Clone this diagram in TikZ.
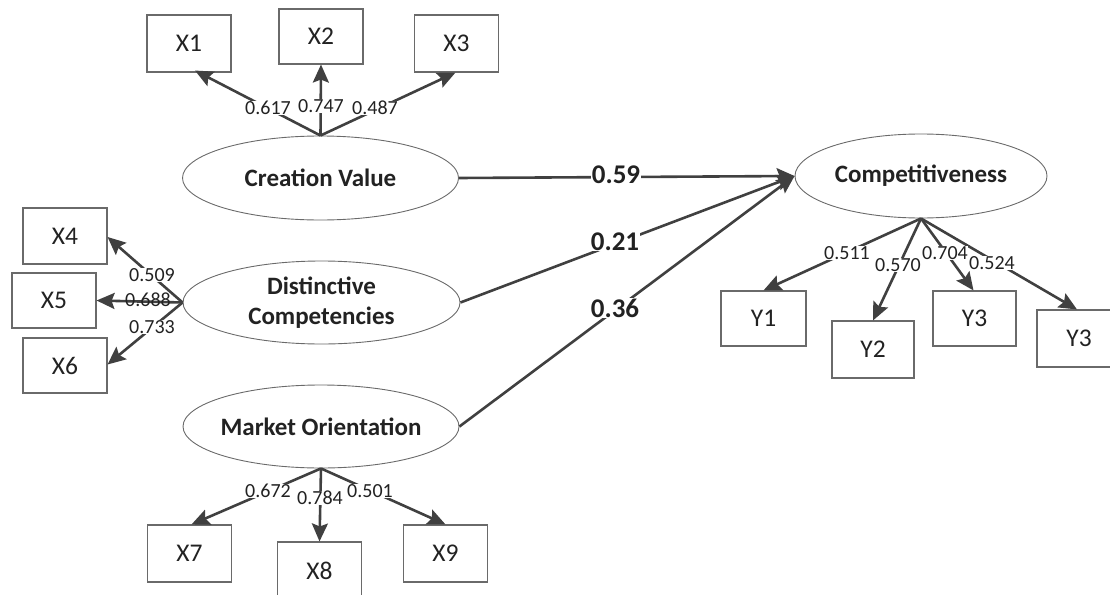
\documentclass[tikz,border=0pt]{standalone}
\usepackage{fontspec}
\setmainfont{Carlito}
\usetikzlibrary{arrows.meta,calc,shapes.geometric}
\definecolor{ln}{HTML}{404040}
\definecolor{bx}{HTML}{6A6A6A}
\definecolor{tx}{HTML}{222222}
\tikzset{
  ind/.style={draw=bx,line width=1.1pt,minimum width=84pt,minimum height=56pt,inner sep=0pt,text=tx,font=\fontsize{25.5}{29}\selectfont},
  lat/.style={draw=bx,line width=0.9pt,ellipse,minimum width=276pt,minimum height=84pt,inner sep=0pt,text=tx,align=center,font=\fontsize{25}{30}\selectfont\bfseries},
  con/.style={draw=ln,line width=2.6pt,-{Stealth[length=18pt,width=16pt,inset=3pt]}},
  lab/.style={fill=white,inner sep=0.5pt,text=tx,font=\fontsize{20}{23}\selectfont},
  coef/.style={fill=white,inner sep=0.5pt,text=tx,font=\fontsize{27}{31}\selectfont\bfseries}
}
\begin{document}
\begin{tikzpicture}[x=1pt,y=-1pt]
\useasboundingbox (0,0) rectangle (1110,594);
% latent variables
\node[lat] (cv) at (320.5,178) {\makebox[0pt]{Creation Value}};
\node[lat,minimum width=277pt,minimum height=83pt] (dc) at (321.5,302.5) {Distinctive\\Competencies};
\node[lat,minimum height=83pt] (mo) at (321,426.5) {\makebox[0pt]{Market Orientation}};
\node[lat,minimum width=252pt] (co) at (921,176) {\makebox[0pt]{Competitiveness}};
% indicators
\node[ind,minimum height=57pt] (x1) at (189,43.5) {X1};
\node[ind,minimum height=55pt] (x2) at (321,36.5) {X2};
\node[ind,minimum height=57pt] (x3) at (456.5,43.5) {X3};
\node[ind] (x4) at (65,236) {X4};
\node[ind,minimum height=55pt] (x5) at (54,300.5) {X5};
\node[ind,minimum height=55pt] (x6) at (65,365.5) {X6};
\node[ind,minimum height=57pt] (x7) at (189.5,553.5) {X7};
\node[ind,minimum height=57pt] (x8) at (319.5,570.5) {X8};
\node[ind,minimum height=57pt] (x9) at (445.5,553.5) {X9};
\node[ind,minimum width=85pt,minimum height=55pt] (y1) at (763.5,318.5) {Y1};
\node[ind,minimum width=82pt,minimum height=57pt] (y2) at (873,349.5) {Y2};
\node[ind,minimum width=83pt,minimum height=55pt] (y3a) at (974.5,318.5) {Y3};
\node[ind,minimum height=57pt] (y3b) at (1079,338.5) {Y3};
% junction points
\coordinate (jcv) at (cv.north);
\coordinate (jdc) at (dc.west);
\coordinate (jmo) at (mo.south);
\coordinate (jco) at (co.south);
% measurement arrows
\draw[con] (jcv) -- ($(x1.south)+(6,-2)$);
\draw[con] (jcv) -- (x2.south);
\draw[con] (jcv) -- ($(x3.south)+(-1,0)$);
\draw[con] (jdc) -- ($(x4.east)+(0,1)$);
\draw[con] (jdc) -- (x5.east);
\draw[con] (jdc) -- ($(x6.east)+(0,-1)$);
\draw[con] (jmo) -- ($(x7.north)+(2,0)$);
\draw[con] (jmo) -- (x8.north);
\draw[con] (jmo) -- (x9.north);
\draw[con] (jco) -- (y1.north);
\draw[con] (jco) -- (y2.north);
\draw[con] (jco) -- ($(y3a.north)+(-1,0)$);
\draw[con] (jco) -- ($(y3b.north)+(-2,0)$);
% structural arrows
\draw[con] (cv.east) -- (co.west);
\draw[con] (dc.east) -- (co.west);
\draw[con] (mo.east) -- (co.west);
% loading labels
\node[lab] (l1) at (268,108) {0.617};
\node[lab] (l2) at (321,106) {0.747};
\node[lab] (l3) at (375,108) {0.487};
\node[lab] (l4) at (152,275) {0.509};
\node[lab,fill=none] (l5) at (148,300) {0.688};
\node[lab] (l6) at (152,327) {0.733};
\node[lab] (l7) at (268,491) {0.672};
\node[lab] (l8) at (320,498) {0.784};
\node[lab] (l9) at (370,491) {0.501};
\node[lab] (l10) at (847,253) {0.511};
\node[lab] (l11) at (898,265) {0.570};
\node[lab] (l12) at (945,253) {0.704};
\node[lab] (l13) at (992,263) {0.524};
% path coefficients
\node[coef] (c1) at (616,175) {0.59};
\node[coef] (c2) at (615,242) {0.21};
\node[coef] (c3) at (615,308) {0.36};
\end{tikzpicture}
\end{document}
